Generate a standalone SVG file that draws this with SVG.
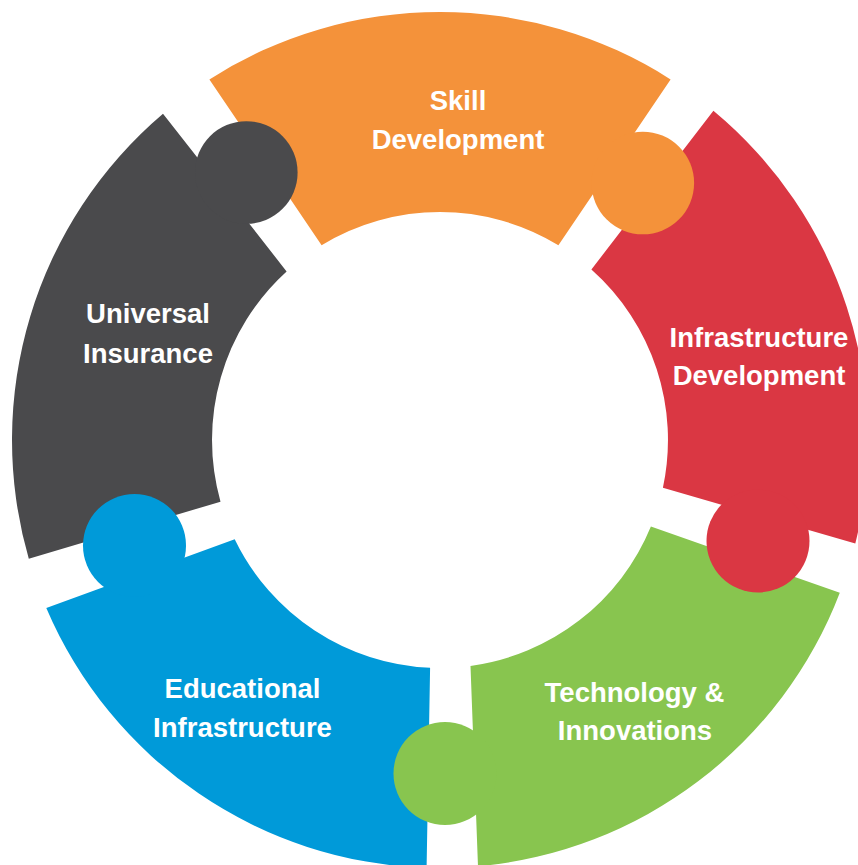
<svg xmlns="http://www.w3.org/2000/svg" width="858" height="865" viewBox="0 0 858 865">
<style>
.lbl{font-family:"Liberation Sans",Arial,sans-serif;font-weight:bold;font-size:27.5px;fill:#ffffff;text-anchor:middle}
.orange{fill:#F4923A}
.red{fill:#DA3743}
.green{fill:#88C54F}
.blue{fill:#009AD9}
.dark{fill:#4A4A4C}
</style>
<rect width="858" height="865" fill="#ffffff"/>
<g id="segments">
<g id="skill-development">
<path class="orange" d="M209.4,79.4 A428,428 0 0 1 670.6,79.4 L558.4,245.2 A228,228 0 0 0 321.6,245.2 Z"/>
</g>
<g id="infrastructure-development">
<path class="red" d="M713.4,110.7 A428,428 0 0 1 855.3,543.5 L662.9,487.8 A228,228 0 0 0 591.4,269.5 Z"/>
</g>
<g id="technology-innovations">
<path class="green" d="M839.8,592.7 A428,428 0 0 1 478.0,866.3 L470.5,665.9 A228,228 0 0 0 650.9,526.5 Z"/>
</g>
<g id="educational-infrastructure">
<path class="blue" d="M426.6,867.8 A428,428 0 0 1 46.3,607.9 L234.7,539.2 A228,228 0 0 0 430.1,667.8 Z"/>
</g>
<g id="universal-insurance">
<path class="dark" d="M28.8,558.7 A428,428 0 0 1 163.0,113.7 L286.6,271.4 A228,228 0 0 0 220.5,501.7 Z"/>
</g>
</g>
<g id="tabs">
<circle class="dark" cx="246.3" cy="172.5" r="51.3"/>
<circle class="orange" cx="642.8" cy="183" r="51.3"/>
<circle class="red" cx="758" cy="541" r="51.5"/>
<circle class="green" cx="445" cy="773.5" r="51.5"/>
<circle class="blue" cx="134.5" cy="545.5" r="51.5"/>
</g>
<g id="labels">
<text class="lbl" x="458" y="110">Skill</text>
<text class="lbl" x="458" y="149">Development</text>
<text class="lbl" x="759" y="346.5">Infrastructure</text>
<text class="lbl" x="759" y="385">Development</text>
<text class="lbl" x="634.5" y="701.5">Technology &amp;</text>
<text class="lbl" x="635" y="740">Innovations</text>
<text class="lbl" x="242.5" y="698">Educational</text>
<text class="lbl" x="242.5" y="736.5">Infrastructure</text>
<text class="lbl" x="148" y="322.5">Universal</text>
<text class="lbl" x="148" y="362.5">Insurance</text>
</g>
</svg>
